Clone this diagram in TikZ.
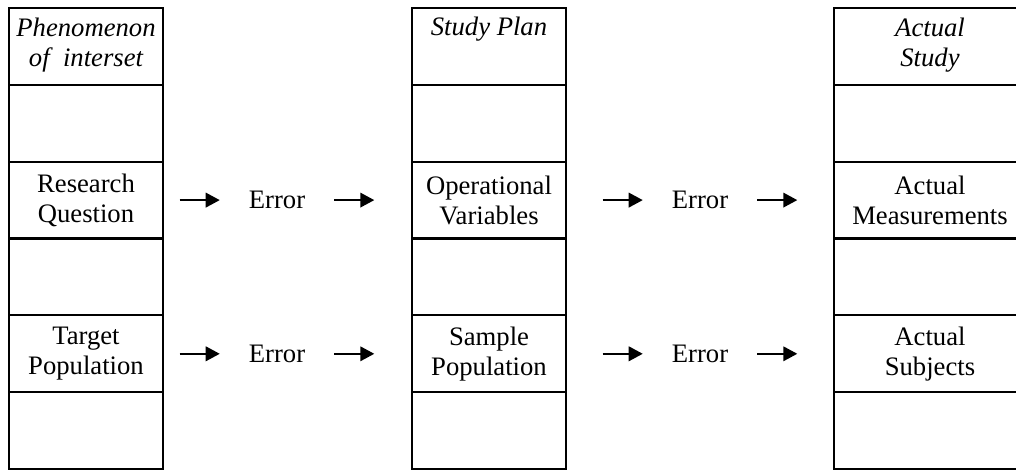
\documentclass[tikz,border=0pt]{standalone}
\usepackage{fontspec}
\setmainfont{Liberation Serif}
\usetikzlibrary{arrows.meta}
\begin{document}
\begin{tikzpicture}[x=0.75pt,y=-0.75pt,
  txt/.style={font=\fontsize{20}{22.5}\selectfont,align=center,inner sep=0pt},
  cell/.style={txt,draw,line width=1.6pt,minimum height=57.6pt},
  narrow/.style={cell,minimum width=115.5pt},
  wide/.style={cell,minimum width=144pt},
  head/.style={txt,font=\fontsize{20}{22.5}\selectfont\itshape,anchor=base},
  err/.style={txt,minimum width=85.5pt},
  arr/.style={line width=1.2pt,-{Triangle[length=10.5pt,width=11pt]}}]
\useasboundingbox (0,0) rectangle (1016,470);
\clip (0,0) rectangle (1016,470);

% column 1: phenomenon of interest
\node[narrow] (a1) at (86,46.4) {};
\node[narrow] (a2) at (86,123.3) {};
\node[narrow] (a3) at (86,200.1) {Research\\Question};
\node[narrow] (a4) at (86,276.9) {};
\node[narrow] (a5) at (86,353.8) {Target\\Population};
\node[narrow] (a6) at (86,430.6) {};
\node[head] (ah) at (86,67) {Phenomenon\\of~ interset};

% column 2: study plan
\node[narrow] (b1) at (489,46.4) {};
\node[narrow] (b2) at (489,123.3) {};
\node[narrow] (b3) at (489,200.1) {Operational\\Variables};
\node[narrow] (b4) at (489,276.9) {};
\node[narrow] (b5) at (489,353.8) {Sample\\Population};
\node[narrow] (b6) at (489,430.6) {};
\node[head] (bh) at (489,36) {Study Plan};

% column 3: actual study
\node[wide] (c1) at (930,46.4) {};
\node[wide] (c2) at (930,123.3) {};
\node[wide] (c3) at (930,200.1) {Actual\\Measurements};
\node[wide] (c4) at (930,276.9) {};
\node[wide] (c5) at (930,353.8) {Actual\\Subjects};
\node[wide] (c6) at (930,430.6) {};
\node[head] (ch) at (930,67) {Actual\\Study};

% error stages between the columns
\node[err] (e1) at (277,200.1) {Error};
\node[err] (e2) at (700,200.1) {Error};
\node[err] (e3) at (277,353.8) {Error};
\node[err] (e4) at (700,353.8) {Error};

\foreach \e in {e1,e2,e3,e4}{
  \draw[arr] ([xshift=-30pt]\e.west) -- (\e.west);
  \draw[arr] (\e.east) -- ([xshift=30pt]\e.east);
}
\end{tikzpicture}
\end{document}
